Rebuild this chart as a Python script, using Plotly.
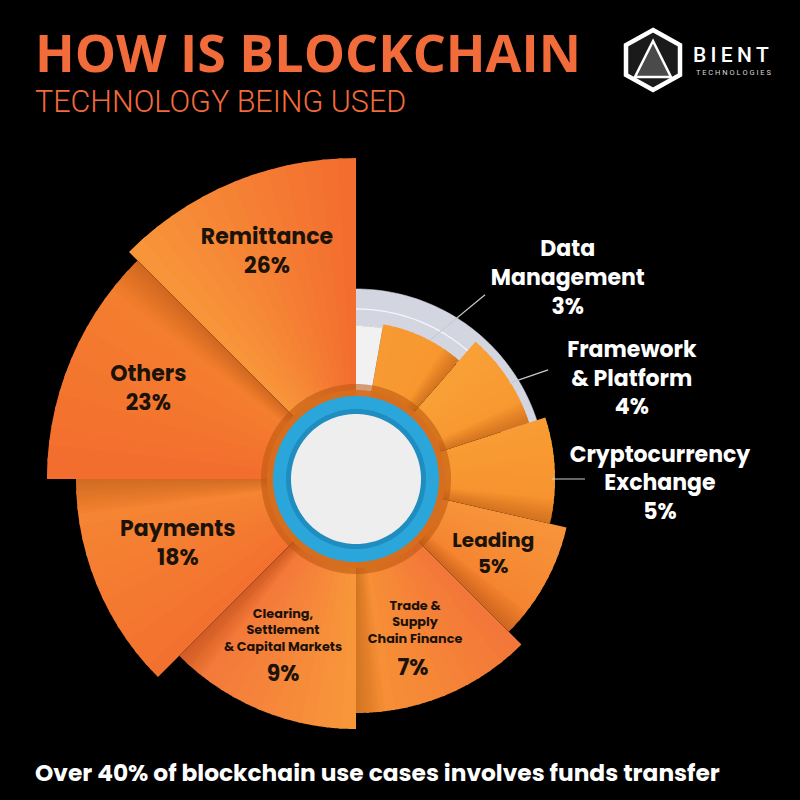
import numpy as np
import plotly.graph_objects as go

# ---------------- data ----------------
categories = ["Data Management", "Framework & Platform", "Cryptocurrency Exchange", "Leading",
              "Trade & Supply Chain Finance", "Clearing, Settlement & Capital Markets",
              "Payments", "Others", "Remittance"]
shares = [3, 4, 5, 5, 7, 9, 18, 23, 26]
# angular extent of each petal (degrees, clockwise from 12 o'clock)
theta_start = [10, 41, 72, 103, 135, 180, 225, 270, 315]
theta_end = [41, 72, 103, 135, 180, 225, 270, 315, 360]
# petal length (radial units)
petal_length = [157, 182, 199, 216, 234, 250, 280, 309, 338]
# label lines (without the percentage)
label_lines = [["Data", "Management"], ["Framework", "& Platform"], ["Cryptocurrency", "Exchange"],
               ["Leading"], ["Trade &", "Supply", "Chain Finance"],
               ["Clearing,", "Settlement", "& Capital Markets"], ["Payments"], ["Others"], ["Remittance"]]

# ---------------- styles ----------------
color_from = ["#F79A33", "#F8A036", "#F89C33", "#F7943A", "#F3763A",
              "#F8983A", "#F3702E", "#F26C2E", "#F8973A"]
color_to = ["#F8962E", "#F8962F", "#F7922E", "#F4802E", "#F79535",
            "#F3733A", "#F58834", "#F5822F", "#F26B2E"]
# label anchor (radius, angle) for name block and for the separate small-label percentage
label_pos_r = [291, 293, 304, 157, 155.6, 168.6, 190, 226, 243]
label_pos_t = [46.7, 70.3, 91.1, 119, 157.7, 205.65, 249.7, 293.2, 338.5]
pct_pos_r = [None, None, None, None, 198.4, 210, None, None, None]
pct_pos_t = [None, None, None, None, 163.3, 200.33, None, None, None]
label_outside = [True, True, True, False, False, False, False, False, False]
label_small = [False, False, False, False, True, True, False, False, False]

FONT = "Poppins, Inter, sans-serif"
R_MAX = 321  # radial range -> pixels
CX, CY = 356, 479


def wedge(t0, t1, r0, r1, n=80):
    arc = np.linspace(t0, t1, n)
    if r0 == 0:
        theta = np.concatenate([[t0], arc, [t1]])
        r = np.concatenate([[0], np.full(n, r1), [0]])
    else:
        theta = np.concatenate([arc, arc[::-1], [arc[0]]])
        r = np.concatenate([np.full(n, r1), np.full(n, r0), [r1]])
    return theta, r


def hex2rgb(h):
    h = h.lstrip("#")
    return np.array([int(h[i:i + 2], 16) for i in (0, 2, 4)], dtype=float)


fig = go.Figure()


def add_fill(theta, r, color, lw=0.6):
    fig.add_trace(go.Scatterpolar(
        theta=theta, r=r, mode="lines", fill="toself", fillcolor=color,
        line=dict(color=color, width=lw), hoverinfo="skip", cliponaxis=False, showlegend=False))


# background track behind the small petals
t, r = wedge(0, 95, 153, 190)
add_fill(t, r, "#D3D6E1")
t, r = wedge(0, 10, 0, 153)
add_fill(t, r, "#F1F1F2")
t = np.linspace(0, 80, 80)
fig.add_trace(go.Scatterpolar(theta=t, r=np.full(80, 170), mode="lines",
                              line=dict(color="#F4F5F8", width=1.3), hoverinfo="skip",
                              cliponaxis=False, showlegend=False))

# petals (angular colour gradient drawn as overlapping thin strips)
N_STRIPS = 14
for i in range(len(categories)):
    c0, c1 = hex2rgb(color_from[i]), hex2rgb(color_to[i])
    edges = np.linspace(theta_start[i], theta_end[i], N_STRIPS + 1)
    for k in range(N_STRIPS):
        f = (k + 0.5) / N_STRIPS
        c = c0 + (c1 - c0) * f
        col = f"rgb({c[0]:.0f},{c[1]:.0f},{c[2]:.0f})"
        t_hi = edges[k + 1] if k == N_STRIPS - 1 else edges[k + 1] + 0.8
        t, r = wedge(edges[k], t_hi, 0, petal_length[i], n=14)
        add_fill(t, r, col, lw=0)

# soft shadows cast by each petal onto the previous one
for i in range(1, len(categories)):
    edge = theta_start[i]
    for k in range(1, 13):
        t, r = wedge(edge - 0.6 * k, edge, 0, petal_length[i - 1])
        add_fill(t, r, "rgba(120,45,0,0.022)", lw=0)

# centre hub
for rad, col in [(95, "rgba(185,85,15,0.55)"), (89, "rgba(215,110,30,0.9)"),
                 (83, "#2AA6DA"), (70, "#1F8DC0"), (65, "#EEEEEF")]:
    t, r = wedge(0, 360, 0, rad, n=180)
    add_fill(t, r, col, lw=0)

# leader lines for outside labels
leaders = [((157, 28), (225, 35)), ((181, 58), (221, 60.4)), ((196, 90), (229, 90))]
for (r0, t0), (r1, t1) in leaders:
    fig.add_trace(go.Scatterpolar(theta=[t0, t1], r=[r0, r1], mode="lines",
                                  line=dict(color="#C9CBD2", width=1.2), hoverinfo="skip",
                                  cliponaxis=False, showlegend=False))

# labels
for i in range(len(categories)):
    col = "#FFFFFF" if label_outside[i] else "#1B1208"
    if label_small[i]:
        fig.add_trace(go.Scatterpolar(
            theta=[label_pos_t[i]], r=[label_pos_r[i]], mode="text",
            text=["<br>".join(label_lines[i])], textposition="middle center",
            textfont=dict(family=FONT, size=12.8, color=col, weight=700),
            hoverinfo="skip", cliponaxis=False, showlegend=False))
        fig.add_trace(go.Scatterpolar(
            theta=[pct_pos_t[i]], r=[pct_pos_r[i]], mode="text",
            text=[f"{shares[i]}%"], textposition="middle center",
            textfont=dict(family=FONT, size=22, color=col, weight=700),
            hoverinfo="skip", cliponaxis=False, showlegend=False))
    else:
        txt = "<br>".join(label_lines[i] + [f"{shares[i]}%"])
        size = 22 if i != 3 else 20
        fig.add_trace(go.Scatterpolar(
            theta=[label_pos_t[i]], r=[label_pos_r[i]], mode="text", text=[txt],
            textposition="middle center",
            textfont=dict(family=FONT, size=size, color=col, weight=700),
            hoverinfo="skip", cliponaxis=False, showlegend=False))

fig.update_layout(
    width=800, height=800,
    margin=dict(l=0, r=0, t=0, b=0),
    paper_bgcolor="#000000", plot_bgcolor="#000000",
    polar=dict(
        domain=dict(x=[(CX - R_MAX) / 800, (CX + R_MAX) / 800],
                    y=[1 - (CY + R_MAX) / 800, 1 - (CY - R_MAX) / 800]),
        bgcolor="rgba(0,0,0,0)",
        radialaxis=dict(range=[0, R_MAX], visible=False),
        angularaxis=dict(rotation=90, direction="clockwise", visible=False),
    ),
)


def px(x, y):
    return f"{x / 800:.4f},{1 - y / 800:.4f}"


heading = ("<span style='font-family:Open Sans;font-size:52px;font-weight:700'>HOW IS BLOCKCHAIN</span>"
           "<br>TECHNOLOGY BEING USED")
annots = [
    dict(text=heading, x=33 / 800, y=1 - 14 / 800, yanchor="top", align="left",
         font=dict(family="Roboto", size=30.5, color="#F26B3A", weight=300)),
    dict(text="Over 40% of blockchain use cases involves funds transfer", x=33 / 800, y=1 - 773 / 800,
         yanchor="middle",
         font=dict(family=FONT, size=23.3, color="#FFFFFF", weight=700)),
    dict(text="B\u2009I\u2009E\u2009N\u2009T", x=691 / 800, y=1 - 55.5 / 800, yanchor="middle",
         font=dict(family="Roboto", size=21, color="#FFFFFF", weight=500)),
    dict(text="T E C H N O L O G I E S", x=694 / 800, y=1 - 72.5 / 800, yanchor="middle",
         font=dict(family="Roboto", size=7.5, color="#D8D8D8", weight=400)),
]
for a in annots:
    fig.add_annotation(xref="paper", yref="paper", xanchor="left", showarrow=False, **a)

# logo mark
hexagon = [(653, 30), (680, 45), (680, 75), (653, 90), (626, 75), (626, 45)]
fig.add_shape(type="path", xref="paper", yref="paper",
              path="M" + " L".join(px(x, y) for x, y in hexagon) + " Z",
              line=dict(color="#FFFFFF", width=4.5), fillcolor="#1A1A1A")
tri = [(653, 41), (671, 77), (635, 77)]
fig.add_shape(type="path", xref="paper", yref="paper",
              path="M" + " L".join(px(x, y) for x, y in tri) + " Z",
              line=dict(color="#FFFFFF", width=2.5), fillcolor="#4A4A4A")

fig.write_html("out.html", config={"displayModeBar": False},
               post_script="document.body.style.margin='0';")
